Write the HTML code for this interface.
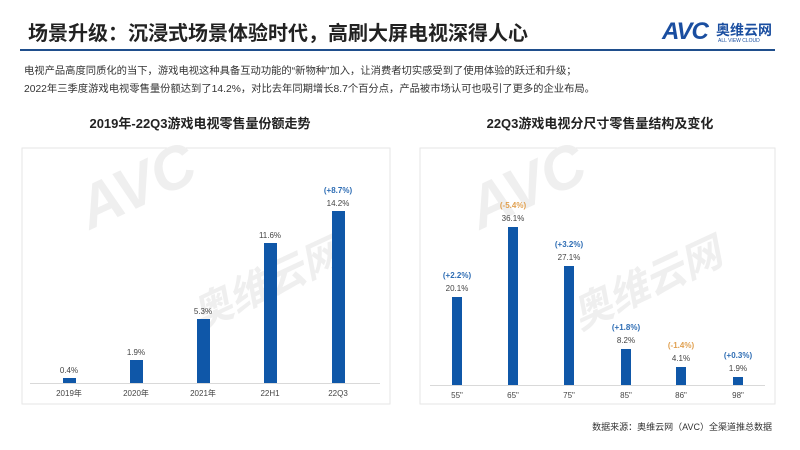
<!DOCTYPE html>
<html><head><meta charset="utf-8"><style>
body{margin:0;width:800px;height:450px;background:#fff;overflow:hidden;position:relative;font-family:"Liberation Sans","Noto Sans CJK SC",sans-serif;}
.a{position:absolute;white-space:nowrap}
</style></head><body>
<div class="a" style="left:28px;top:17px;font-size:20px;font-weight:bold;color:#222;">场景升级：沉浸式场景体验时代，高刷大屏电视深得人心</div>
<div class="a" style="left:662px;top:18px;font-size:24px;font-weight:bold;color:#1a4ea0;font-style:italic;letter-spacing:-1px">AVC</div>
<div class="a" style="left:716px;top:20px;font-size:14px;font-weight:bold;color:#1a4ea0;">奥维云网</div>
<div class="a" style="left:718px;top:38px;font-size:5px;color:#1a4ea0;">ALL VIEW CLOUD</div>
<div class="a" style="left:20px;top:49px;width:755px;height:2px;background:#1f4e8c"></div>
<div class="a" style="left:24px;top:62px;font-size:10.3px;color:#333;">电视产品高度同质化的当下，游戏电视这种具备互动功能的“新物种”加入，让消费者切实感受到了使用体验的跃迁和升级；</div>
<div class="a" style="left:24px;top:80px;font-size:10.3px;color:#333;">2022年三季度游戏电视零售量份额达到了14.2%，对比去年同期增长8.7个百分点，产品被市场认可也吸引了更多的企业布局。</div>
<div class="a" style="left:60px;top:113px;width:280px;text-align:center;font-size:13px;font-weight:bold;color:#222;">2019年-22Q3游戏电视零售量份额走势</div>
<div class="a" style="left:460px;top:113px;width:280px;text-align:center;font-size:13px;font-weight:bold;color:#222;">22Q3游戏电视分尺寸零售量结构及变化</div>
<svg class="a" style="left:0;top:0" width="800" height="450" font-family="Liberation Sans, Noto Sans CJK SC, sans-serif">
<rect x="22" y="148" width="368" height="256" fill="none" stroke="#e6e6e6"/>
<rect x="420" y="148" width="355" height="256" fill="none" stroke="#e6e6e6"/>
<g fill="#efefef" font-weight="bold" font-style="italic">
<text x="90" y="230" font-size="60" transform="rotate(-25 90 230)">AVC</text>
<text x="200" y="330" font-size="40" transform="rotate(-25 200 330)">奥维云网</text>
<text x="480" y="230" font-size="60" transform="rotate(-25 480 230)">AVC</text>
<text x="580" y="330" font-size="40" transform="rotate(-25 580 330)">奥维云网</text>
</g>
<line x1="30" y1="383.5" x2="380" y2="383.5" stroke="#d9d9d9"/>
<g fill="#0f57a8">
<rect x="63" y="378" width="13" height="5"/><rect x="130" y="360" width="13" height="23"/><rect x="197" y="319" width="13" height="64"/><rect x="264" y="243" width="13" height="140"/><rect x="332" y="211" width="13" height="172"/>
</g>
<g font-size="8" fill="#444" text-anchor="middle">
<text x="69" y="373">0.4%</text><text x="136" y="355">1.9%</text><text x="203" y="314">5.3%</text><text x="270" y="238">11.6%</text><text x="338" y="206">14.2%</text>
<text x="69" y="396">2019年</text><text x="136" y="396">2020年</text><text x="203" y="396">2021年</text><text x="270" y="396">22H1</text><text x="338" y="396">22Q3</text>
</g>
<text x="338" y="193" font-size="8" fill="#2e6db4" text-anchor="middle" font-weight="bold">(+8.7%)</text>
<line x1="430" y1="385.5" x2="765" y2="385.5" stroke="#d9d9d9"/>
<g fill="#0f57a8">
<rect x="452" y="297" width="10" height="88"/><rect x="508" y="227" width="10" height="158"/><rect x="564" y="266" width="10" height="119"/><rect x="621" y="349" width="10" height="36"/><rect x="676" y="367" width="10" height="18"/><rect x="733" y="377" width="10" height="8"/>
</g>
<g font-size="8" fill="#444" text-anchor="middle">
<text x="457" y="291">20.1%</text><text x="513" y="221">36.1%</text><text x="569" y="260">27.1%</text><text x="626" y="343">8.2%</text><text x="681" y="361">4.1%</text><text x="738" y="371">1.9%</text>
<text x="457" y="398">55"</text><text x="513" y="398">65"</text><text x="569" y="398">75"</text><text x="626" y="398">85"</text><text x="681" y="398">86"</text><text x="738" y="398">98"</text>
</g>
<g font-size="8" text-anchor="middle" font-weight="bold">
<text x="457" y="278" fill="#2e6db4">(+2.2%)</text><text x="513" y="208" fill="#e0a050">(-5.4%)</text><text x="569" y="247" fill="#2e6db4">(+3.2%)</text><text x="626" y="330" fill="#2e6db4">(+1.8%)</text><text x="681" y="348" fill="#e0a050">(-1.4%)</text><text x="738" y="358" fill="#2e6db4">(+0.3%)</text>
</g>
<text x="772" y="430" font-size="9" fill="#333" text-anchor="end">数据来源：奥维云网（AVC）全渠道推总数据</text>
</svg>
</body></html>
